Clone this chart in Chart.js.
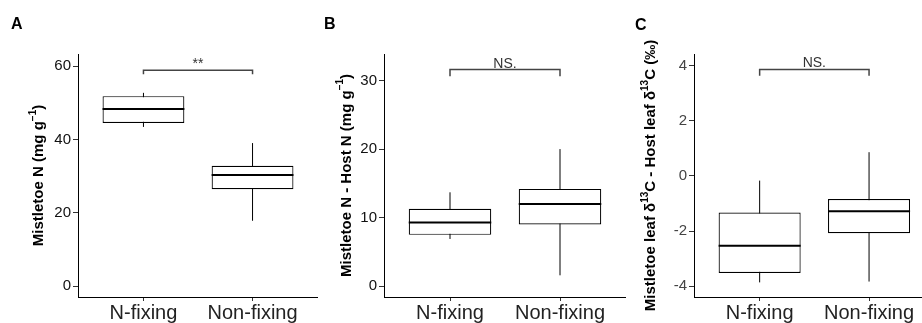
<!DOCTYPE html>
<html lang="en">
<head>
<meta charset="UTF-8">
<title>Mistletoe N and d13C boxplots</title>
<script src="https://cdn.jsdelivr.net/npm/chart.js"></script>
<style>
  body { margin: 0; background: #fff; font-family: "Liberation Sans", Arial, sans-serif; }
  .wrap { position: relative; width: 922px; height: 323px; overflow: hidden; }
  .panel { position: absolute; top: 0; }
  .tag { position: absolute; top: 16px; font-size: 16px; line-height: 16px; font-weight: bold; color: #000; }
</style>
</head>
<body>
<div class="wrap">
  <canvas id="chartA" class="panel" width="318" height="323" style="left:0"></canvas>
  <canvas id="chartB" class="panel" width="308" height="323" style="left:318px"></canvas>
  <canvas id="chartC" class="panel" width="296" height="323" style="left:626px"></canvas>
  <div class="tag" style="left:11px">A</div>
  <div class="tag" style="left:324px">B</div>
  <div class="tag" style="left:635px;top:17px">C</div>
</div>

<script>
const FONT = '"Liberation Sans", Arial, sans-serif';

const categories = ['N-fixing', 'Non-fixing'];

// each box: [lower whisker, q1, median, q3, upper whisker]
const statsA = [[43.4, 44.5, 48.3, 51.8, 52.7], [17.8, 26.4, 30.3, 32.8, 39.0]];
const statsB = [[6.9, 7.5, 9.3, 11.3, 13.7], [1.6, 9.0, 12.0, 14.2, 20.0]];
const statsC = [[-3.86, -3.52, -2.53, -1.33, -0.17], [-3.83, -2.08, -1.28, -0.84, 0.86]];

const ticksA = [0, 20, 40, 60];
const ticksB = [0, 10, 20, 30];
const ticksC = [-4, -2, 0, 2, 4];

// significance bracket: [foot, top]
const bracketA = [57.8, 58.9];
const bracketB = [30.6, 31.6];
const bracketC = [3.63, 3.86];

const HALF = 0.375; // half box width in category units

// y-axis title drawn by hand so long titles are not squeezed
const yTitle = {
  id: 'yTitle',
  afterDraw(chart, args, opts) {
    const {ctx, chartArea} = chart;
    const big = 'bold 15px ' + FONT, small = 'bold 10px ' + FONT;
    ctx.save();
    ctx.translate(opts.x, (chartArea.top + chartArea.bottom) / 2);
    ctx.rotate(-Math.PI / 2);
    let total = 0;
    opts.parts.forEach((t, i) => { ctx.font = i % 2 ? small : big; total += ctx.measureText(t).width; });
    let x = -total / 2;
    ctx.fillStyle = '#000';
    ctx.textBaseline = 'middle';
    opts.parts.forEach((t, i) => {
      ctx.font = i % 2 ? small : big;
      ctx.fillText(t, x, i % 2 ? -6 : 0);
      x += ctx.measureText(t).width;
    });
    ctx.restore();
  }
};

const sigText = {
  id: 'sigText',
  afterDatasetsDraw(chart, args, opts) {
    const {ctx, scales: {x, y}} = chart;
    ctx.save();
    ctx.font = '14px ' + FONT;
    ctx.fillStyle = '#333';
    ctx.textAlign = 'center';
    ctx.textBaseline = 'alphabetic';
    ctx.fillText(opts.text, x.getPixelForValue(1.5), y.getPixelForValue(opts.at) - 2);
    ctx.restore();
  }
};

function makeChart(p) {
  const whisk = [], med = [], boxes = [];
  p.stats.forEach((s, i) => {
    whisk.push({x: i + 1, y: s[0]}, {x: i + 1, y: s[4]}, {x: i + 1.5, y: null});
    med.push({x: i + 1 - HALF, y: s[2]}, {x: i + 1 + HALF, y: s[2]}, {x: i + 1.5, y: null});
    boxes.push({x: i + 1, y: [s[1], s[3]]});
  });
  const br = p.bracket;
  const bracket = [{x: 1, y: br[0]}, {x: 1, y: br[1]}, {x: 2, y: br[1]}, {x: 2, y: br[0]}];

  const line = {type: 'line', pointRadius: 0, spanGaps: false, fill: false, tension: 0};

  new Chart(document.getElementById(p.id), {
    type: 'bar',
    data: {
      datasets: [
        {...line, data: whisk, borderColor: '#000', borderWidth: 1, order: 3},
        {data: boxes, backgroundColor: '#fff', borderColor: '#000', borderWidth: 1.2,
         borderSkipped: false, categoryPercentage: 1, barPercentage: 0.75, order: 2},
        {...line, data: med, borderColor: '#000', borderWidth: 2, order: 1},
        {...line, data: bracket, borderColor: '#444', borderWidth: 1.5, order: 0}
      ]
    },
    options: {
      responsive: false,
      devicePixelRatio: 1,
      animation: false,
      layout: {padding: {top: 54, left: 0, right: 0, bottom: 0}},
      plugins: {
        legend: {display: false},
        tooltip: {enabled: false},
        yTitle: {x: p.titleX, parts: p.title},
        sigText: {text: p.sig, at: br[1]}
      },
      scales: {
        x: {
          type: 'linear', min: 0.4, max: p.xMax, offset: false,
          afterBuildTicks: s => { s.ticks = categories.map((c, i) => ({value: i + 1})); },
          afterFit: s => { s.height = 26; },
          ticks: {font: {size: 20, family: FONT}, color: '#222', padding: 0,
                  maxRotation: 0, callback: (v, i) => categories[i]},
          grid: {drawOnChartArea: false, offset: false, tickLength: 4, color: '#333'},
          border: {display: true, color: '#000', width: 1}
        },
        y: {
          min: p.yMin, max: p.yMax,
          afterBuildTicks: s => { s.ticks = p.ticks.map(v => ({value: v})); },
          afterFit: s => { s.width = p.axisW; },
          ticks: {font: {size: 15, family: FONT}, color: p.tickColor, padding: 2},
          grid: {drawOnChartArea: false, tickLength: 5, color: '#333'},
          border: {display: true, color: '#000', width: 1}
        }
      }
    },
    plugins: [yTitle, sigText]
  });
}

makeChart({id: 'chartA', stats: statsA, ticks: ticksA, bracket: bracketA, sig: '**',
  yMin: -3, yMax: 63.3, xMax: 2.6, axisW: 78, titleX: 39, tickColor: '#111',
  title: ['Mistletoe N (mg g', '\u22121', ')']});
makeChart({id: 'chartB', stats: statsB, ticks: ticksB, bracket: bracketB, sig: 'NS.',
  yMin: -1.56, yMax: 33.86, xMax: 2.6, axisW: 66, titleX: 28.5, tickColor: '#111',
  title: ['Mistletoe N - Host N (mg g', '\u22121', ')']});
makeChart({id: 'chartC', stats: statsC, ticks: ticksC, bracket: bracketC, sig: 'NS.',
  yMin: -4.39, yMax: 4.42, xMax: 2.484, axisW: 68, titleX: 25, tickColor: '#444',
  title: ['Mistletoe leaf \u03b4', '13', 'C - Host leaf \u03b4', '13', 'C (\u2030)']});
</script>
</body>
</html>
